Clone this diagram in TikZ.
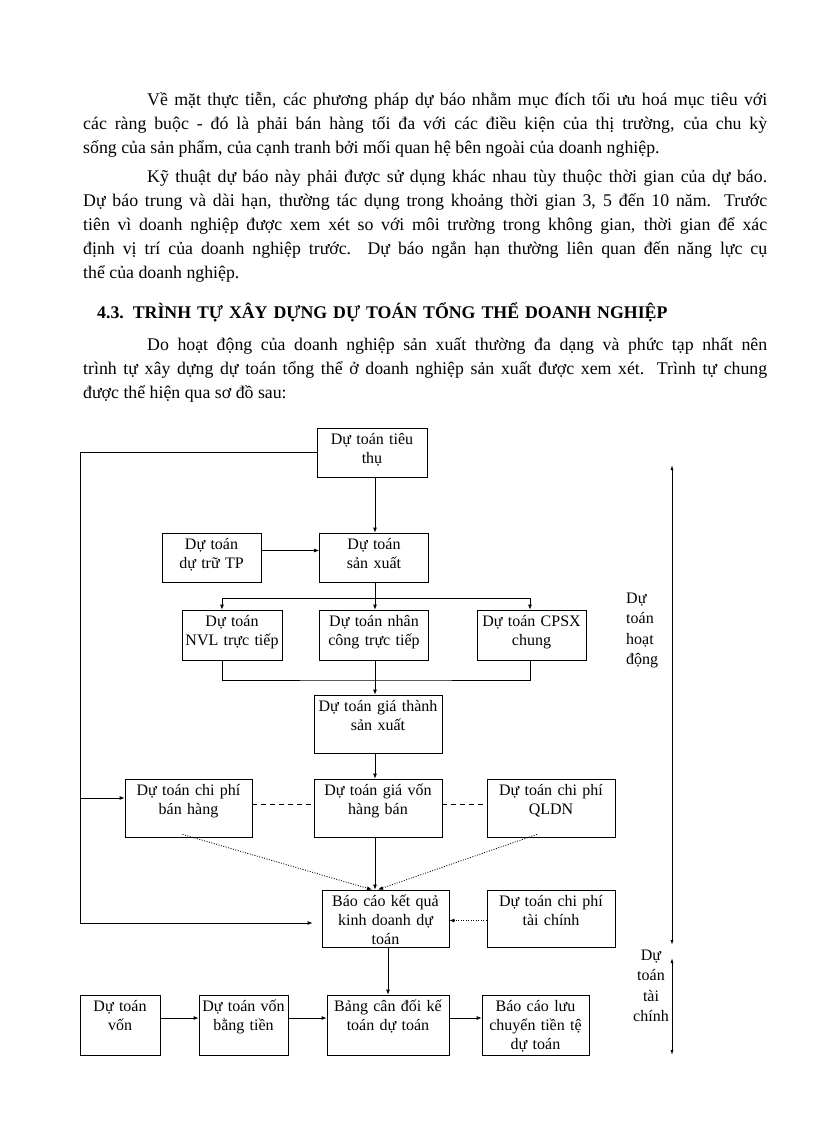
\documentclass[tikz,border=0pt]{standalone}
\usepackage{fontspec}
\setmainfont{Liberation Serif}
\usetikzlibrary{arrows.meta}

\begin{document}
\begin{tikzpicture}[x=1pt, y=-1pt,
    txt/.style={anchor=north west, inner sep=0pt, text width=684pt, align=justify, text height=14pt, font=\fontsize{17.8}{24}\selectfont},
    box/.style={draw, line width=0.8pt, align=center, text width=#1, inner xsep=0pt, inner ysep=0pt, text height=16pt, font=\fontsize{16}{19}\selectfont},
    lbl/.style={inner sep=0pt, text width=44pt, text height=12pt, font=\fontsize{16}{20.5}\selectfont},
    arr/.style={line width=0.8pt, -{Latex[length=5pt,width=4pt]}},
    dotarr/.style={arr, dash pattern=on 1pt off 1.5pt},
    dsh/.style={line width=0.8pt, dash pattern=on 5pt off 4pt},
    span/.style={line width=0.8pt, {Latex[length=5pt,width=3pt]}-{Latex[length=5pt,width=3pt]}}]

\fill[white] (0,0) rectangle (816,1123);
\useasboundingbox (0,0) rectangle (816,1123);

% text above the chart
\node[txt] (p1) at (83,91) {\hspace*{64pt}Về mặt thực tiễn, các phương pháp dự báo nhằm mục đích tối ưu hoá mục tiêu với\linebreak
các ràng buộc - đó là phải bán hàng tối đa với các điều kiện của thị trường, của chu kỳ\linebreak
sống của sản phẩm, của cạnh tranh bởi mối quan hệ bên ngoài của doanh nghiệp.};
\node[txt] (p2) at (83,168) {\hspace*{64pt}Kỹ thuật dự báo này phải được sử dụng khác nhau tùy thuộc thời gian của dự báo.\linebreak
Dự báo trung và dài hạn, thường tác dụng trong khoảng thời gian 3, 5 đến 10 năm. Trước\linebreak
tiên vì doanh nghiệp được xem xét so với môi trường trong không gian, thời gian để xác\linebreak
định vị trí của doanh nghiệp trước. Dự báo ngắn hạn thường liên quan đến năng lực cụ\linebreak
thể của doanh nghiệp.};
\node[txt, align=left] (h43) at (97,304) {\bfseries 4.3. TRÌNH TỰ XÂY DỰNG DỰ TOÁN TỔNG THỂ DOANH NGHIỆP};
\node[txt] (p3) at (83,336) {\hspace*{64pt}Do hoạt động của doanh nghiệp sản xuất thường đa dạng và phức tạp nhất nên\linebreak
trình tự xây dựng dự toán tổng thể ở doanh nghiệp sản xuất được xem xét. Trình tự chung\linebreak
được thể hiện qua sơ đồ sau:};

% boxes
\node[box=110pt, text depth=33pt] (tt) at (372,452.5) {Dự toán tiêu\\thụ};
\node[box=99pt, text depth=33pt] (tp) at (211.5,557.5) {Dự toán\\dự trữ TP};
\node[box=109pt, text depth=33pt] (sx) at (374,557.5) {Dự toán\\sản xuất};
\node[box=100pt, text depth=34pt] (nvl) at (232,635) {Dự toán\\NVL trực tiếp};
\node[box=109pt, text depth=34pt] (nc) at (374,635) {Dự toán nhân\\công trực tiếp};
\node[box=109pt, text depth=34pt] (cp) at (531.5,635) {Dự toán CPSX\\chung};
\node[box=128pt, text depth=42pt] (gt) at (378,724) {Dự toán giá thành\\sản xuất};
\node[box=127pt, text depth=42pt] (bh) at (188.5,808) {Dự toán chi phí\\bán hàng};
\node[box=128pt, text depth=42pt] (gv) at (378,808) {Dự toán giá vốn\\hàng bán};
\node[box=128pt, text depth=42pt] (ql) at (551,808) {Dự toán chi phí\\QLDN};
\node[box=127pt, text depth=41pt] (kq) at (385.5,918.5) {Báo cáo kết quả\\kinh doanh dự\\toán};
\node[box=128pt, text depth=41pt] (tc) at (551,918.5) {Dự toán chi phí\\tài chính};
\node[box=80pt, text depth=44pt] (v) at (120,1025) {Dự toán\\vốn};
\node[box=89pt, text depth=44pt] (vt) at (243.5,1025) {Dự toán vốn\\bằng tiền};
\node[box=122pt, text depth=44pt] (cd) at (388,1025) {Bảng cân đối kế\\toán dự toán};
\node[box=107pt, text depth=44pt] (lc) at (535.5,1025) {Báo cáo lưu\\chuyển tiền tệ\\dự toán};

% side labels
\node[lbl, anchor=north west, align=left] (hd) at (626,591) {Dự\\toán\\hoạt\\động};
\node[lbl, anchor=north, align=center] (tcl) at (651,948) {Dự\\toán\\tài\\chính};

% helper points
\coordinate (br) at (375,598);
\coordinate (mg) at (375,680);
\coordinate (lx) at (80,0);
\coordinate (h1) at (672,465);
\coordinate (h2) at (672,945);
\coordinate (f1) at (672,958);
\coordinate (f2) at (672,1055);

% connectors
\draw[arr] (tt.south -| br) -- (br |- sx.north);
\draw[arr] ([yshift=7pt]tp.east) -- ([yshift=7pt]sx.west);
\draw[arr] (sx.south -| br) -- (br |- nc.north);
\draw[arr] (br) -| ([xshift=-10pt]nvl.north);
\draw[arr] (br) -| ([xshift=-1.5pt]cp.north);
\draw[line width=0.8pt] ([xshift=-10pt]nvl.south) |- (mg) -| ([xshift=-1.5pt]cp.south);
\draw[line width=0.8pt] (nc.south -| mg) -- (mg);
\draw[arr] (mg) -- (mg |- gt.north);
\draw[arr] (gt.south -| mg) -- (mg |- gv.north);
\draw[dsh] ([yshift=4pt]bh.east) -- ([yshift=4pt]gv.west);
\draw[dsh] ([yshift=4pt]gv.east) -- ([yshift=4pt]ql.west);
\draw[arr] (gv.south -| mg) -- (mg |- kq.north);
\draw[dotarr] ([xshift=-6pt,yshift=3pt]bh.south) -- ([xshift=-3pt]mg |- kq.north);
\draw[dotarr] ([xshift=-14pt,yshift=3pt]ql.south) -- ([xshift=3pt]mg |- kq.north);
\draw[dotarr] ([yshift=-2pt]tc.west) -- ([yshift=-2pt]kq.east);
\draw[arr] (tt.west) -| ([yshift=-4.5pt]lx |- kq.west) -- ([xshift=-9pt,yshift=-4.5pt]kq.west);
\draw[arr] ([yshift=10pt]lx |- bh.west) -- ([yshift=10pt]bh.west);
\draw[arr] (kq.south -| cd) -- (cd.north);
\draw[arr] ([yshift=7pt]v.east) -- ([yshift=7pt]vt.west);
\draw[arr] ([yshift=7pt]vt.east) -- ([yshift=7pt]cd.west);
\draw[arr] ([yshift=7pt]cd.east) -- ([yshift=7pt]lc.west);
\draw[span] (h1) -- (h2);
\draw[span] (f1) -- (f2);

\end{tikzpicture}
\end{document}
